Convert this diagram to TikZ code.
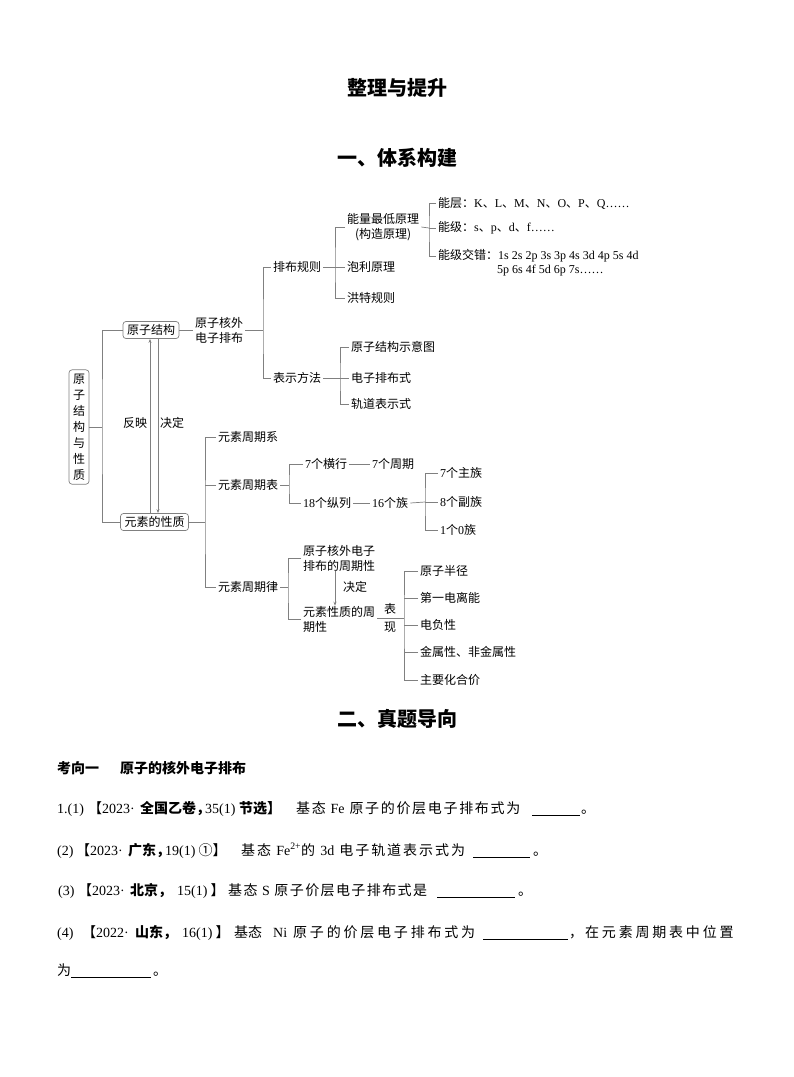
\documentclass[tikz,border=0pt]{standalone}
\usepackage{fontspec}
\setmainfont{Noto Sans CJK SC}
\newfontfamily\lat{Liberation Serif}
\usetikzlibrary{arrows.meta}
\begin{document}
\begin{tikzpicture}[x=1pt,y=-1pt,
  ln/.style={draw=black!50, line width=0.7pt},
  arr/.style={ln,-{Stealth[length=4pt,width=3pt]}},
  tx/.style={inner xsep=2pt, inner ysep=1pt, anchor=west, font=\fontsize{12}{15}\selectfont},
  bx/.style={draw=black!50, line width=0.7pt, rounded corners=3pt, inner xsep=4pt, inner ysep=3pt, font=\fontsize{12}{15}\selectfont},
  ttl/.style={inner sep=0pt, font=\fontsize{20}{22}\selectfont\bfseries},
  qt/.style={inner sep=0pt, anchor=base west, font=\fontsize{14}{16}\selectfont},
  qb/.style={qt, font=\fontsize{14}{16}\selectfont\bfseries},
  ul/.style={draw=black, line width=0.6pt}
]
\useasboundingbox[fill=white] (0,0) rectangle (794,1077);

% titles
\node[ttl] (title) at (397,88) {整理与提升};
\node[ttl] (sec1) at (397,158) {一、体系构建};
\node[ttl] (sec2) at (397,719) {二、真题导向};

% root and main boxes
\node[bx, align=center, font=\fontsize{12}{16}\selectfont, inner xsep=4pt, inner ysep=4pt] (root) at (79,427) {原\\子\\结\\构\\与\\性\\质};
\node[bx] (yzjg) at (151,330) {原子结构};
\node[bx] (ysxz) at (154.5,522) {元素的性质};

\coordinate (b0) at (102,427);
\draw[ln] (root.east) -- (b0);
\draw[ln] (yzjg.west) -| (b0) |- (ysxz.west);

\coordinate (xl) at (150,0);
\coordinate (xr) at (158,0);
\draw[arr] (ysxz.north -| xl) -- (yzjg.south -| xl);
\draw[arr] (yzjg.south -| xr) -- (ysxz.north -| xr);
\node[tx, anchor=center] (fy) at (135,423) {反映};
\node[tx, anchor=center] (jd) at (172,423) {决定};

% upper branch
\node[tx, align=left] (hwpb) at (193,330) {原子核外\\电子排布};
\draw[ln] (yzjg.east) -- (hwpb.west);
\coordinate (b1) at (263,330);
\node[tx] (pbgz) at (271,267) {排布规则};
\node[tx] (bsff) at (271,378) {表示方法};
\draw[ln] (hwpb.east) -- (b1);
\draw[ln] (pbgz.west) -| (b1) |- (bsff.west);

\coordinate (b2) at (335,267);
\node[tx, align=center] (nlzd) at (345,227) {能量最低原理\\(构造原理)};
\node[tx] (plyl) at (345,267) {泡利原理};
\node[tx] (htgz) at (345,298) {洪特规则};
\draw[ln] (pbgz.east) -- (b2);
\draw[ln] (nlzd.west) -| (b2) |- (htgz.west);
\draw[ln] (b2) -- (plyl.west);

\coordinate (b3) at (429,228);
\node[tx] (nc) at (436,203) {能层：{\lat K}、{\lat L}、{\lat M}、{\lat N}、{\lat O}、{\lat P}、{\lat Q……}};
\node[tx] (nj) at (436,228) {能级：{\lat s}、{\lat p}、{\lat d}、{\lat f……}};
\node[tx] (njjc) at (436,256) {能级交错：{\lat 1s 2s 2p 3s 3p 4s 3d 4p 5s 4d}};
\node[tx] (njjc2) at (495,271) {\lat 5p 6s 4f 5d 6p 7s……};
\draw[ln] (nlzd.east) -- (b3);
\draw[ln] (nc.west) -| (b3) |- (njjc.west);
\draw[ln] (b3) -- (nj.west);

\coordinate (b4) at (340,378);
\node[tx] (syt) at (349,347) {原子结构示意图};
\node[tx] (pbs) at (349,378) {电子排布式};
\node[tx] (gds) at (349,404) {轨道表示式};
\draw[ln] (bsff.east) -- (b4);
\draw[ln] (syt.west) -| (b4) |- (gds.west);
\draw[ln] (b4) -- (pbs.west);

% lower branch
\coordinate (b5) at (205,522);
\node[tx] (zqx) at (216,437) {元素周期系};
\node[tx] (zqb) at (216,485) {元素周期表};
\node[tx] (zql) at (216,587) {元素周期律};
\draw[ln] (ysxz.east) -- (b5);
\draw[ln] (zqx.west) -| (b5) |- (zql.west);
\draw[ln] (zqb.west) -- (zqb.west -| b5);

\coordinate (b6) at (289,485);
\node[tx] (hh) at (303,464) {{\lat 7}个横行};
\node[tx] (zq) at (370,464) {{\lat 7}个周期};
\node[tx] (zl) at (301,503) {{\lat 18}个纵列};
\node[tx] (z16) at (370,503) {{\lat 16}个族};
\draw[ln] (zqb.east) -- (b6);
\draw[ln] (hh.west) -| (b6) |- (zl.west);
\draw[ln] (hh.east) -- (zq.west);
\draw[ln] (zl.east) -- (z16.west);

\coordinate (b7) at (425,502);
\node[tx] (zz) at (438,473) {{\lat 7}个主族};
\node[tx] (fz) at (438,502) {{\lat 8}个副族};
\node[tx] (z0) at (438,530) {{\lat 1}个{\lat 0}族};
\draw[ln] (z16.east) -- (b7);
\draw[ln] (zz.west) -| (b7) |- (z0.west);
\draw[ln] (b7) -- (fz.west);

\coordinate (b8) at (288,587);
\node[tx, align=left] (zqx1) at (301,558) {原子核外电子\\排布的周期性};
\node[tx, align=left] (zqx2) at (301,619) {元素性质的周\\期性};
\draw[ln] (zql.east) -- (b8);
\draw[ln] (zqx1.west) -| (b8) |- (zqx2.west);
\coordinate (xa) at (335,0);
\draw[arr] ([yshift=1pt]zqx1.south -| xa) -- ([yshift=-1pt]zqx2.north -| xa);
\node[tx, anchor=center] (jd2) at (355,587) {决定};

\coordinate (b9) at (404,618);
\node[tx, anchor=center] (biao) at (390,609) {表};
\node[tx, anchor=center] (xian) at (390,627) {现};
\draw[ln] (zqx2.east |- b9) -- (b9);
\node[tx] (bj) at (418,571) {原子半径};
\node[tx] (dyd) at (418,598) {第一电离能};
\node[tx] (dfx) at (418,625) {电负性};
\node[tx] (jsx) at (418,652) {金属性、非金属性};
\node[tx] (hj) at (418,680) {主要化合价};
\draw[ln] (bj.west) -| (b9) |- (hj.west);
\draw[ln] (dyd.west) -- (dyd.west -| b9);
\draw[ln] (dfx.west) -- (dfx.west -| b9);
\draw[ln] (jsx.west) -- (jsx.west -| b9);

% section two
\node[qb] (kx) at (57,773) {考向一\hspace{21pt}原子的核外电子排布};

% line 1
\node[qt] (q1a) at (57,813) {\lat 1.(1)};
\node[qt] (q1b) at (88,813) {【{\lat 2023·}};
\node[qb] (q1c) at (140,813) {全国乙卷，};
\node[qt] (q1d) at (205,813) {\lat 35(1)};
\node[qb] (q1e) at (239,813) {节选】};
\node[qt] (q1f) at (296,813) {\addfontfeatures{LetterSpace=12}基态 {\lat Fe} 原子的价层电子排布式为};
\draw[ul] (532,815) -- (580,815);
\node[qt] (q1g) at (581,813) {。};

% line 2
\node[qt] (q2a) at (57,855) {\lat (2)};
\node[qt] (q2b) at (76,855) {【{\lat 2023·}};
\node[qb] (q2c) at (128,855) {广东，};
\node[qt] (q2d) at (165,855) {{\lat 19(1)} ①】};
\node[qt] (q2e) at (241,855) {\addfontfeatures{LetterSpace=14}基态 {\lat Fe}\textsuperscript{\lat 2+}的 {\lat 3d} 电子轨道表示式为};
\draw[ul] (473,857) -- (530,857);
\node[qt] (q2g) at (533,855) {。};

% line 3
\node[qt] (q3a) at (58,895) {\lat (3)};
\node[qt] (q3b) at (78,895) {【{\lat 2023·}};
\node[qb] (q3c) at (130,895) {北京，};
\node[qt] (q3d) at (177,895) {{\lat 15(1)} 】};
\node[qt] (q3e) at (228,895) {\addfontfeatures{LetterSpace=10}基态 {\lat S} 原子价层电子排布式是};
\draw[ul] (437,897) -- (515,897);
\node[qt] (q3g) at (518,895) {。};

% line 4
\node[qt] (q4a) at (57,937) {\lat (4)};
\node[qt] (q4b) at (82,937) {【{\lat 2022·}};
\node[qb] (q4c) at (135,937) {山东，};
\node[qt] (q4d) at (182,937) {{\lat 16(1)} 】};
\node[qt] (q4e) at (234,937) {基态};
\node[qt] (q4n) at (273,937) {\lat Ni};
\node[qt] (q4f) at (293,937) {\addfontfeatures{LetterSpace=20}原子的价层电子排布式为};
\draw[ul] (483,939) -- (568,939);
\node[qt] (q4g) at (569,937) {，};
\node[qt] (q4h) at (585,937) {\addfontfeatures{LetterSpace=20}在元素周期表中位置};

% line 5
\node[qt] (q5a) at (57,975) {为};
\draw[ul] (71,977) -- (151,977);
\node[qt] (q5b) at (153,975) {。};
\end{tikzpicture}
\end{document}
